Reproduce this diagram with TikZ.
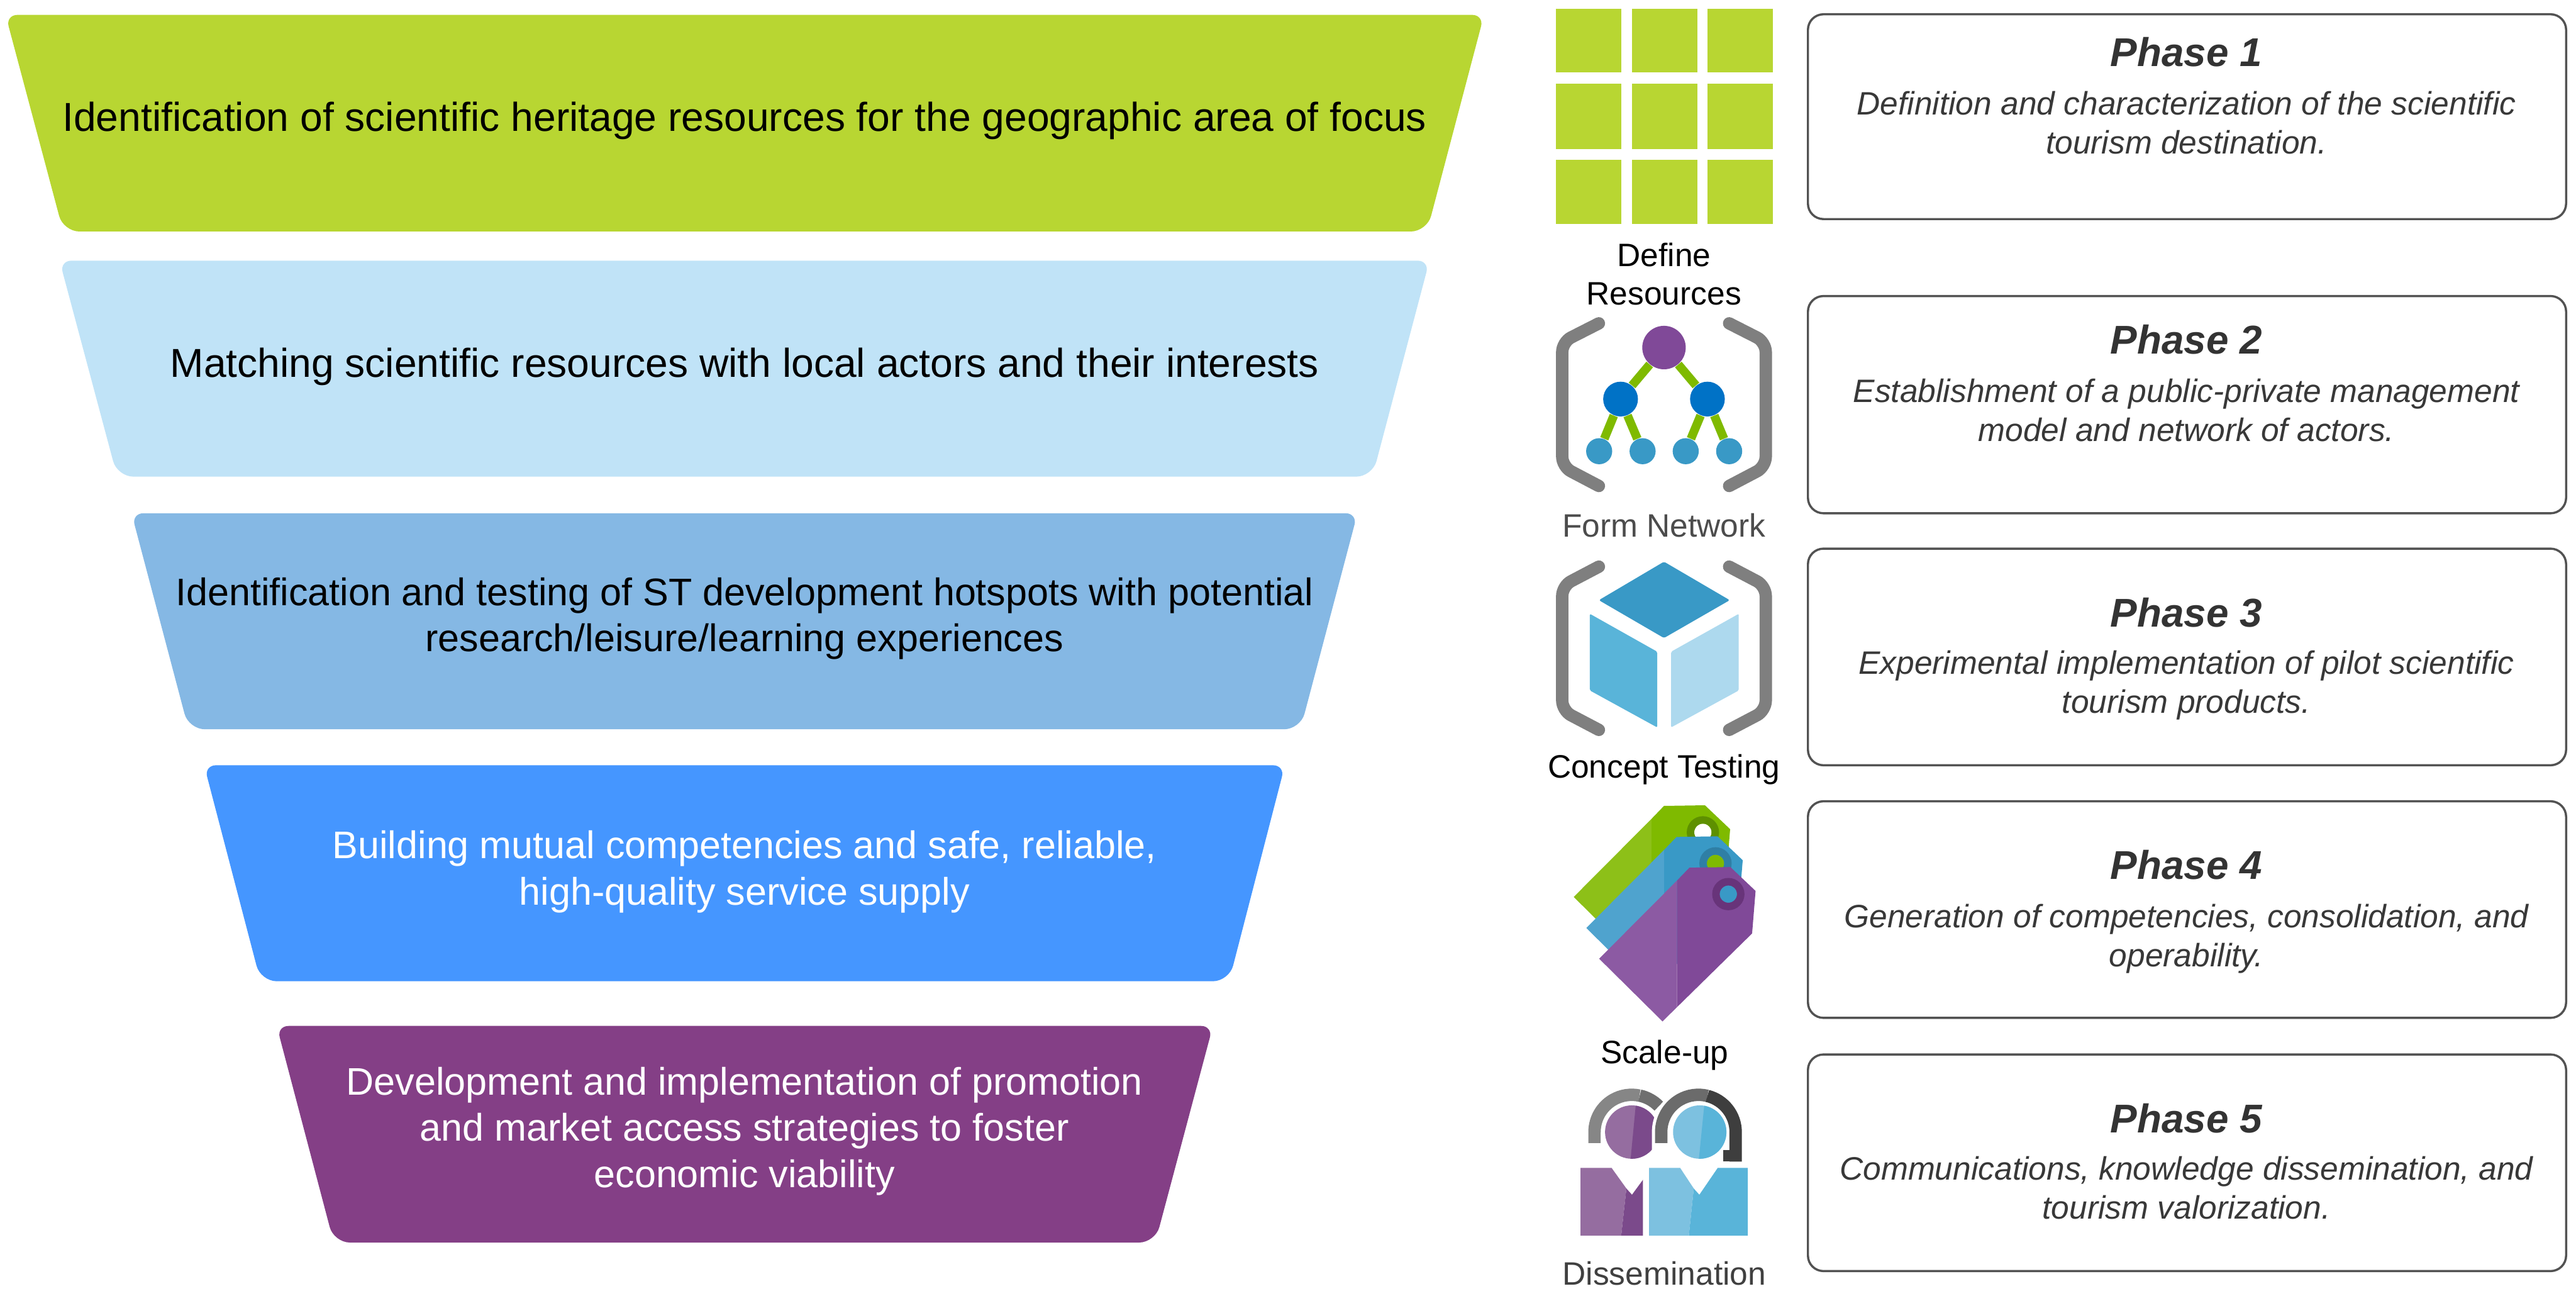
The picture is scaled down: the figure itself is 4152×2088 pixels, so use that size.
\documentclass[tikz,border=0pt]{standalone}
\usepackage{fontspec}
\setmainfont{Liberation Sans}
\definecolor{cGreen}{HTML}{B8D632}
\definecolor{cSky}{HTML}{C0E3F7}
\definecolor{cMid}{HTML}{85B8E4}
\definecolor{cBlue}{HTML}{4596FF}
\definecolor{cPurple}{HTML}{843F86}
\definecolor{cGray}{HTML}{7F7F7F}
\definecolor{tLeaf}{HTML}{7FBA00}
\definecolor{tLeafL}{HTML}{8DC018}
\definecolor{tRingG}{HTML}{5E9000}
\definecolor{tAz}{HTML}{3999C6}
\definecolor{tAzL}{HTML}{4FA3CE}
\definecolor{tRingB}{HTML}{2F7FA5}
\definecolor{tVi}{HTML}{804998}
\definecolor{tViL}{HTML}{8C5AA3}
\definecolor{tRingV}{HTML}{68347A}
\definecolor{pViL}{HTML}{956DA0}
\definecolor{pViD}{HTML}{7B4A8B}
\definecolor{pAzL}{HTML}{7DC1E0}
\definecolor{pAzD}{HTML}{59B4D9}
\definecolor{nMid}{HTML}{0072C6}
\definecolor{cubeLight}{HTML}{ADD9EE}
\definecolor{hsA}{HTML}{868686}
\definecolor{hsB}{HTML}{6F6F6F}
\definecolor{hsC}{HTML}{6B6B6B}
\definecolor{hsD}{HTML}{3E3E3E}
\newcommand{\funnelshape}[7]{%
  \fill[#7] [rounded corners=0.19cm] (#1,#5) -- (#3,#5) [rounded corners=0.26cm] -- (#4,#6) -- (#2,#6) [rounded corners=0.19cm] -- cycle;}
\newcommand{\tagshape}[6]{%
  \begin{scope}[shift={(#1,#2)}]
    \fill[#3] (2577.5,1544.7) -- (2703,1418.7) -- (2703,1622.7) -- (2679.6,1645.7) -- cycle;
    \fill[#4] (2703,1418.7) -- (2723,1398) -- (2789,1397) -- (2829.6,1435.5) -- (2824,1504) -- (2703,1622.7) -- cycle;
    \fill[#6] (2785.7,1440.6) circle[radius=0.14cm];
    \draw[#5,line width=0.12cm] (2785.7,1440.6) circle[radius=0.20cm];
  \end{scope}}
\tikzset{
  x=0.01cm,y=-0.01cm,
  funnel text/.style={font=\fontsize{18.5}{21.2}\selectfont,align=center,anchor=base,inner sep=0pt},
  funnel small/.style={funnel text,font=\fontsize{17.6}{21.2}\selectfont},
  icon label/.style={font=\fontsize{14.85}{17.6}\selectfont,align=center,anchor=base,inner sep=0pt},
  phase title/.style={font=\fontsize{18.4}{21}\selectfont\bfseries\itshape,text=black!80,anchor=base,inner sep=0pt},
  phase body/.style={font=\fontsize{14.85}{17.8}\selectfont\itshape,text=black!78,align=center,anchor=base,inner sep=0pt},
  phase box/.style={draw=black!68,line width=0.035cm,rounded corners=0.25cm,fill=white},
  bracket/.style={draw=cGray,line width=0.2cm,line cap=round,rounded corners=0.16cm},
  net top/.style={circle,fill=tVi,minimum size=0.7cm,inner sep=0pt},
  net mid/.style={circle,fill=nMid,minimum size=0.56cm,inner sep=0pt},
  net leaf/.style={circle,fill=tAz,minimum size=0.42cm,inner sep=0pt},
  net link/.style={draw=tLeaf,line width=0.14cm},
  cell/.style={fill=cGreen}
}
\begin{document}
\begin{tikzpicture}
\useasboundingbox (0,0) rectangle (4152,2088);
% funnel
\funnelshape{9}{102}{2392}{2300}{24}{373}{cGreen}
\funnelshape{96}{189}{2304}{2212}{420}{768}{cSky}
\funnelshape{212}{304}{2188}{2096}{827}{1175}{cMid}
\funnelshape{329}{420}{2071}{1981}{1233}{1581}{cBlue}
\funnelshape{446}{538}{1955}{1862}{1653}{2002}{cPurple}
\node[funnel text] (t1) at (1200,211) {Identification of scientific heritage resources for the geographic area of focus};
\node[funnel text] (t2) at (1200,608) {Matching scientific resources with local actors and their interests};
\node[funnel small] (t3) at (1200,1050) {Identification and testing of ST development hotspots with potential\\[0pt]research/leisure/learning experiences};
\node[funnel small,text=white] (t4) at (1200,1458) {Building mutual competencies and safe, reliable,\\[0pt]high-quality service supply};
\node[funnel small,text=white] (t5) at (1200,1913) {Development and implementation of promotion\\[0pt]and market access strategies to foster\\[0pt]economic viability};
% grid icon
\foreach \xa/\xb in {2508/2613,2630/2736,2752/2857}
  \foreach \ya/\yb in {14/117,135/240,257/361}
    \fill[cell] (\xa,\ya) rectangle (\xb,\yb);
\node[icon label] (l1) at (2682,491) {Define\\[0pt]Resources};
% network icon
\draw[bracket] (2577,521) -- (2518,551) -- (2518,752) -- (2577,783);
\draw[bracket] (2787,521) -- (2846,551) -- (2846,752) -- (2787,783);
\node[net top] (n0) at (2682,560) {};
\node[net mid] (n1) at (2612,643) {};
\node[net mid] (n2) at (2752,643) {};
\node[net leaf] (n3) at (2577.5,727) {};
\node[net leaf] (n4) at (2647.5,727) {};
\node[net leaf] (n5) at (2717,727) {};
\node[net leaf] (n6) at (2787,727) {};
\draw[net link] (n0)--(n1); \draw[net link] (n0)--(n2);
\draw[net link] (n1)--(n3); \draw[net link] (n1)--(n4);
\draw[net link] (n2)--(n5); \draw[net link] (n2)--(n6);
\node[icon label,text=black!70] (l2) at (2682,865) {Form Network};
% cube icon
\draw[bracket] (2577,913) -- (2518,944) -- (2518,1145) -- (2577,1176);
\draw[bracket] (2787,913) -- (2846,944) -- (2846,1145) -- (2787,1176);
\fill[tAz,rounded corners=0.03cm] (2682,905) -- (2788,967) -- (2682,1028) -- (2577,967) -- cycle;
\fill[pAzD,rounded corners=0.02cm] (2562.5,989) -- (2671,1050) -- (2671,1172) -- (2562.5,1112.5) -- cycle;
\fill[cubeLight,rounded corners=0.02cm] (2693.5,1050) -- (2802.5,989) -- (2802.5,1112.5) -- (2693.5,1172) -- cycle;
\node[icon label] (l3) at (2682,1253) {Concept Testing};
% tags
\tagshape{-41}{-99.5}{tLeafL}{tLeaf}{tRingG}{white}
\tagshape{-20.7}{-49.5}{tAzL}{tAz}{tRingB}{tLeaf}
\tagshape{0}{0}{tViL}{tVi}{tRingV}{tAz}
\node[icon label] (l4) at (2683,1714) {Scale-up};
% people icon
\begin{scope}
  \clip (2630,1824) circle[radius=0.43cm];
  \fill[pViL] (2580,1770) rectangle (2680,1880);
  \fill[pViD] (2637.5,1770) -- (2680,1770) -- (2680,1880) -- (2627,1880) -- cycle;
\end{scope}
\fill[pViL] (2547.5,1881.7) -- (2597.5,1881.7) -- (2621.4,1915) -- (2613,1991) -- (2547.5,1991) -- cycle;
\fill[pViD] (2621.4,1915) -- (2630.4,1925) -- (2648,1901) -- (2648,1991) -- (2613,1991) -- cycle;
\draw[line width=0.2cm,draw=hsA] (2570,1841.7) -- (2570,1824) arc[start angle=180,end angle=78,radius=0.6cm];
\draw[line width=0.2cm,draw=hsB] (2642.9,1765.3) arc[start angle=78,end angle=44,radius=0.6cm];
\draw[white,line width=0.3cm] (2677.5,1880) -- (2677.5,1824) arc[start angle=180,end angle=76,radius=0.6cm];
\draw[line width=0.2cm,draw=hsC] (2677.5,1841.7) -- (2677.5,1824) arc[start angle=180,end angle=76,radius=0.6cm];
\draw[line width=0.2cm,draw=hsD] (2752,1765.8) arc[start angle=76,end angle=0,radius=0.6cm] -- (2797.5,1871.7);
\fill[hsD] (2777.5,1853) rectangle (2807,1871.7);
\begin{scope}
  \clip (2739.6,1824) circle[radius=0.43cm];
  \fill[pAzL] (2690,1770) rectangle (2790,1880);
  \fill[pAzD] (2748,1770) -- (2790,1770) -- (2790,1880) -- (2737,1880) -- cycle;
\end{scope}
\fill[pAzL] (2658,1881.7) -- (2708,1881.7) -- (2730,1915) -- (2722,1991) -- (2658,1991) -- cycle;
\fill[pAzD] (2730,1915) -- (2739,1925) -- (2768.6,1881.7) -- (2817,1881.7) -- (2817,1991) -- (2722,1991) -- cycle;
\node[icon label,text=black!75] (l5) at (2682.5,2070) {Dissemination};
% phase boxes
\draw[phase box] (2914,23) rectangle (4136,353);
\draw[phase box] (2914,477) rectangle (4136,827);
\draw[phase box] (2914,884) rectangle (4136,1233);
\draw[phase box] (2914,1291) rectangle (4136,1640);
\draw[phase box] (2914,1699) rectangle (4136,2048);
\node[phase title] (p1) at (3524,107) {Phase 1};
\node[phase body] (b1) at (3524,248) {Definition and characterization of the scientific\\[0pt]tourism destination.};
\node[phase title] (p2) at (3524,570) {Phase 2};
\node[phase body] (b2) at (3524,711) {Establishment of a public-private management\\[0pt]model and network of actors.};
\node[phase title] (p3) at (3524,1010) {Phase 3};
\node[phase body] (b3) at (3524,1149) {Experimental implementation of pilot scientific\\[0pt]tourism products.};
\node[phase title] (p4) at (3524,1417) {Phase 4};
\node[phase body] (b4) at (3524,1557) {Generation of competencies, consolidation, and\\[0pt]operability.};
\node[phase title] (p5) at (3524,1825) {Phase 5};
\node[phase body] (b5) at (3524,1964) {Communications, knowledge dissemination, and\\[0pt]tourism valorization.};
\end{tikzpicture}
\end{document}
